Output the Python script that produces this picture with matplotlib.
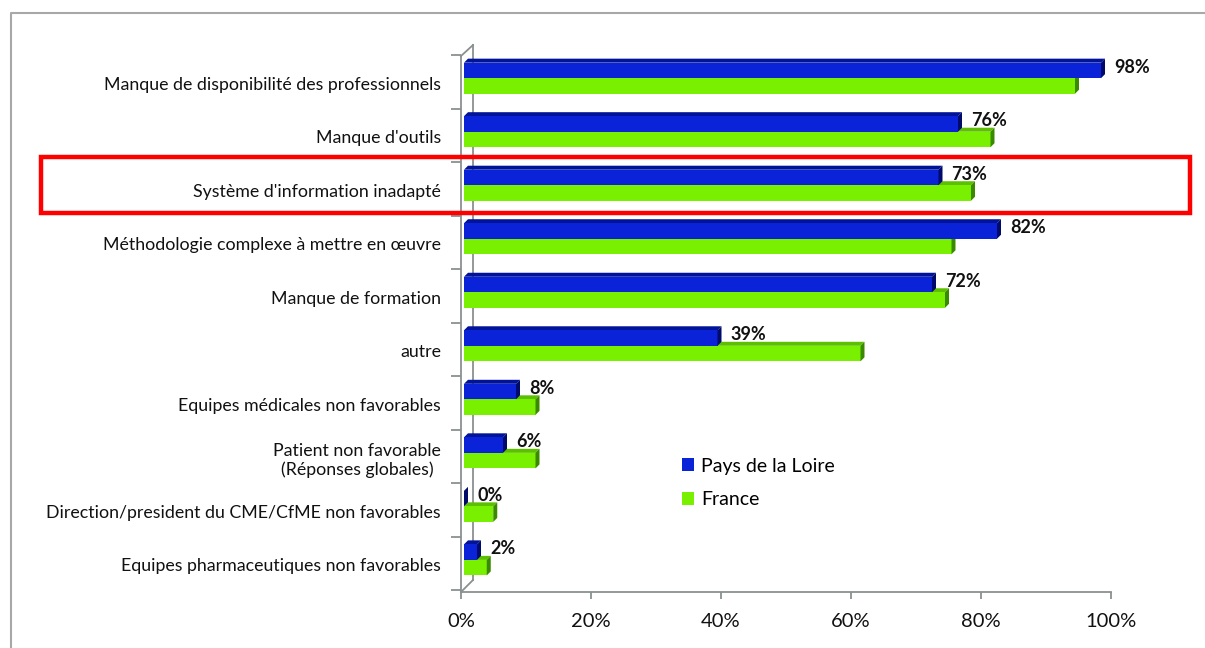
import matplotlib
matplotlib.use("Agg")
import matplotlib.pyplot as plt
from matplotlib.patches import Polygon, Rectangle, Patch
from matplotlib.lines import Line2D
from matplotlib.transforms import blended_transform_factory

categories = [
    "Manque de disponibilité des professionnels",
    "Manque d'outils",
    "Système d'information inadapté",
    "Méthodologie complexe à mettre en œuvre",
    "Manque de formation",
    "autre",
    "Equipes médicales non favorables",
    "Patient non favorable\n(Réponses globales)",
    "Direction/president du CME/CfME non favorables",
    "Equipes pharmaceutiques non favorables",
]
pays_de_la_loire = [98, 76, 73, 82, 72, 39, 8, 6, 0, 2]
france = [94, 81, 78, 75, 74, 61, 11, 11, 4.5, 3.5]
xticks = [0, 20, 40, 60, 80, 100]
xticklabels = ["0%", "20%", "40%", "60%", "80%", "100%"]
series_names = ["Pays de la Loire", "France"]
highlight_row = 2

FONT = ["Lato", "DejaVu Sans"]
plt.rcParams["font.family"] = FONT

W, H = 1205, 648
fig = plt.figure(figsize=(W / 100, H / 100), dpi=100)
ax = fig.add_axes([461 / W, 56 / H, 650 / W, 547 / H])
ax.set_xlim(0, 100)
ax.set_ylim(9.6, -0.62)

# 3D-look parameters (data units)
dx = 4 / 6.5
dy = 4 / 53.5
hb = 0.29
x0b = 3 / 6.5   # bars start slightly inside the 3D wall

blue_front, blue_top, blue_side = "#0a22d8", "#001399", "#000a6a"
green_front, green_top, green_side = "#78f000", "#5cc000", "#3a8a00"

for i, (b, g) in enumerate(zip(pays_de_la_loire, france)):
    c = i
    # green bar (below)
    y0, y1 = c, c + hb
    ge = x0b + g
    ax.add_patch(Polygon([(x0b, y0), (x0b + dx, y0 - dy), (ge + dx, y0 - dy), (ge, y0)],
                         closed=True, facecolor=green_top, edgecolor="none", zorder=2))
    ax.add_patch(Rectangle((x0b, y0), g, hb, facecolor=green_front, edgecolor="none", zorder=2))
    ax.add_patch(Polygon([(ge, y1), (ge + dx, y1 - dy), (ge + dx, y0 - dy), (ge, y0)],
                         closed=True, facecolor=green_side, edgecolor="none", zorder=2))
    # blue bar (above)
    y0, y1 = c - hb, c
    be = x0b + b
    ax.add_patch(Polygon([(x0b, y0), (x0b + dx, y0 - dy), (be + dx, y0 - dy), (be, y0)],
                         closed=True, facecolor=blue_top, edgecolor="none", zorder=3))
    ax.add_patch(Rectangle((x0b, y0), b, hb, facecolor=blue_front, edgecolor="none", zorder=3))
    ax.add_patch(Polygon([(be, y1), (be + dx, y1 - dy), (be + dx, y0 - dy), (be, y0)],
                         closed=True, facecolor=blue_side, edgecolor="none", zorder=3))
    ax.text(be + dx + 1.4, c - hb / 2 - 0.06, f"{b}%", fontsize=13, fontweight="bold",
            ha="left", va="center", color="#111111", zorder=5)

# axes styling
for s in ["top", "right", "left"]:
    ax.spines[s].set_visible(False)
ax.spines["bottom"].set_color("#8a9090")
ax.spines["bottom"].set_linewidth(1.3)
ax.set_xticks(xticks)
ax.set_xticklabels(xticklabels, fontsize=14.5, color="#111111")
ax.tick_params(axis="x", direction="out", length=5, width=1.3, color="#8a9090", pad=10)

ax.set_yticks([k - 0.43 for k in range(11)])
ax.set_yticklabels([])
ax.tick_params(axis="y", which="major", direction="out", length=7, width=1.3, color="#8a9090")
ax.set_yticks([k + 0.09 for k in range(len(categories))], minor=True)
ax.set_yticklabels(categories, minor=True, fontsize=12.8, color="#111111")
ax.tick_params(axis="y", which="minor", length=0, pad=14.4)
for lab in ax.get_yticklabels(minor=True):
    lab.set_multialignment("center")

# 3D wall lines of the y axis (axes coords)
wc = "#8a9090"
bx = 12 / 650
front_top = (592 - 56) / 547
by = 12 / 547
for xs, ys in [([0, 0], [0, front_top]), ([bx, bx], [by, 1.0]),
               ([0, bx], [front_top, 1.0]), ([0, bx], [0, by])]:
    ax.add_line(Line2D(xs, ys, transform=ax.transAxes, color=wc, lw=1.3, clip_on=False, zorder=1))

# legend
handles = [Patch(facecolor=blue_front, edgecolor="none"), Patch(facecolor=green_front, edgecolor="none")]
fig.legend(handles, series_names, loc="center left", bbox_to_anchor=(664 / W, 1 - 483 / H),
           frameon=False, fontsize=14, handlelength=0.65, handleheight=0.65,
           handletextpad=0.35, labelspacing=0.85)

# figure frame
fig.add_artist(Line2D([11 / W, 11 / W, 1.0], [0.0, 1 - 13 / H, 1 - 13 / H],
                      transform=fig.transFigure, color="#a8a8a8", lw=1.5))

# red highlight box
tr = blended_transform_factory(fig.transFigure, ax.transData)
x0, x1 = 41 / W, 1190 / W
ax.add_patch(Rectangle((x0, highlight_row - 0.52), x1 - x0, 1.04, transform=tr,
                       facecolor="none", edgecolor="#ff0000", lw=3.2, clip_on=False, zorder=6))

fig.savefig("out.png", dpi=100)
